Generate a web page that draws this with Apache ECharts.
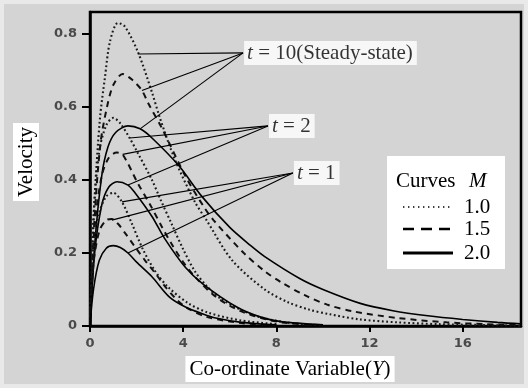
<!DOCTYPE html>
<html><head><meta charset="utf-8">
<script src="https://cdn.jsdelivr.net/npm/echarts@6/dist/echarts.min.js"></script>
<style>html,body{margin:0;padding:0;background:#e9e9e9;}#c{width:528px;height:388px;}</style>
</head><body><div id="c"></div>
<script>
// ---- Data ----
const xTicks = [0, 4, 8, 12, 16];
const yTicks = [0, 0.2, 0.4, 0.6, 0.8];
const legendValues = ['1.0', '1.5', '2.0'];

// t = 10 (steady state)
const t10_M10 = [[0,0],[0.2,0.35],[0.43,0.57],[0.64,0.68],[0.86,0.78],[1.2,0.83],[1.5,0.82],[2.06,0.75],[2.66,0.64],[3.0,0.57],[3.65,0.455],[4.5,0.34],[5.0,0.29],[6.1,0.18],[7.5,0.10],[8.5,0.065],[9.4,0.045],[10.3,0.032],[11.6,0.018],[13.2,0.01],[15,0.005],[18.5,0.001]];
const t10_M15 = [[0,0],[0.2,0.3],[0.45,0.5],[0.73,0.6],[1.0,0.66],[1.4,0.69],[1.8,0.675],[2.23,0.645],[2.5,0.61],[3.1,0.54],[4.1,0.41],[4.9,0.325],[5.3,0.29],[6.6,0.2],[7.5,0.15],[8.2,0.12],[9.2,0.085],[10.2,0.058],[11.3,0.04],[13.2,0.022],[15.3,0.01],[17,0.005],[18.5,0.002]];
const t10_M20 = [[0,0],[0.2,0.22],[0.5,0.41],[0.77,0.49],[1.1,0.53],[1.63,0.548],[2.15,0.54],[2.66,0.515],[3.8,0.44],[4.8,0.355],[6.0,0.27],[6.9,0.22],[7.5,0.19],[9.0,0.13],[10,0.1],[11.6,0.062],[13,0.042],[14.5,0.028],[16,0.018],[17.5,0.01],[18.5,0.006]];
// t = 2
const t2_M10 = [[0,0],[0.15,0.3],[0.4,0.48],[0.7,0.55],[1.0,0.57],[1.3,0.555],[1.7,0.515],[2.0,0.48],[2.66,0.40],[3.0,0.35],[3.5,0.28],[4.0,0.21],[4.5,0.15],[5.0,0.11],[5.6,0.075],[7,0.03],[8.5,0.009],[10,0.002]];
const t2_M15 = [[0,0],[0.2,0.27],[0.5,0.41],[0.8,0.46],[1.15,0.475],[1.4,0.47],[2.06,0.39],[2.6,0.33],[3.1,0.27],[3.5,0.225],[4.0,0.175],[4.5,0.135],[5.4,0.08],[6.5,0.04],[8,0.012],[9.5,0.003]];
const t2_M20 = [[0,0],[0.2,0.2],[0.5,0.33],[0.8,0.38],[1.16,0.395],[1.63,0.386],[1.93,0.365],[2.66,0.30],[3.2,0.24],[4.1,0.16],[4.85,0.115],[6.3,0.052],[7.3,0.025],[8.2,0.012],[10,0.003]];
// t = 1
const t1_M10 = [[0,0],[0.15,0.2],[0.4,0.31],[0.7,0.355],[1.0,0.365],[1.37,0.34],[1.8,0.28],[2.27,0.21],[2.8,0.15],[3.35,0.107],[4.2,0.063],[5.1,0.036],[6.5,0.015],[8,0.005]];
const t1_M15 = [[0,0],[0.15,0.17],[0.4,0.26],[0.7,0.29],[0.94,0.293],[1.2,0.28],[1.5,0.255],[1.93,0.217],[2.36,0.18],[2.8,0.145],[3.2,0.11],[3.65,0.077],[4.1,0.052],[5,0.025],[6.5,0.008],[8,0.002]];
const t1_M20 = [[0,0],[0.15,0.1],[0.4,0.18],[0.7,0.213],[1.0,0.22],[1.3,0.215],[1.63,0.2],[2.0,0.175],[2.66,0.135],[3.4,0.08],[4.1,0.052],[4.85,0.033],[5.4,0.022],[6.5,0.01],[8,0.003]];

// annotation anchors (data space)
const annotations = [
  {pre:'t', post:' = 10(Steady-state)', origin:[6.57,0.748], targets:[[2.06,0.745],[2.23,0.645],[2.15,0.54]]},
  {pre:'t', post:' = 2', origin:[7.64,0.548], targets:[[1.7,0.515],[1.4,0.47],[1.63,0.386]]},
  {pre:'t', post:' = 1', origin:[8.71,0.419], targets:[[1.37,0.34],[0.94,0.29],[1.63,0.2]]}
];

// ---- Styling ----
const SERIF = '"Liberation Serif","Times New Roman",serif';
const styles = {
  dotted: {color:'#1a1a1a', width:2.1, type:[1.8,2.6], cap:'butt'},
  dashed: {color:'#111', width:2, type:[6,5]},
  solid:  {color:'#000', width:1.6, type:'solid'}
};
const curveList = [
  [t10_M10,'dotted'],[t10_M15,'dashed'],[t10_M20,'solid'],
  [t2_M10,'dotted'],[t2_M15,'dashed'],[t2_M20,'solid'],
  [t1_M10,'dotted'],[t1_M15,'dashed'],[t1_M20,'solid']
];

const series = [];
curveList.forEach(([d, s]) => {
  series.push({type:'line', data:d, showSymbol:false, smooth:0.3,
    lineStyle:Object.assign({}, styles[s]), silent:true, z:2});
});
annotations.forEach(a => {
  a.targets.forEach(tg => {
    series.push({type:'line', data:[a.origin, tg], showSymbol:false,
      lineStyle:{color:'#000', width:1.1}, silent:true, z:3});
  });
  series.push({type:'scatter', data:[a.origin], symbolSize:0, silent:true, z:5,
    label:{show:true, position:'right', distance:1,
      formatter:'{i|' + a.pre + '}{n|' + a.post + '}',
      backgroundColor:'#fff', padding:[2,4,1,3],
      rich:{i:{fontFamily:SERIF, fontStyle:'italic', fontSize:21, color:'#000'},
            n:{fontFamily:SERIF, fontSize:21, color:'#000'}}}});
});

const tickLabelStyle = {color:'#4a4a4a', fontFamily:'"DejaVu Sans",sans-serif', fontSize:13, fontWeight:'bold'};

const option = {
  animation:false,
  backgroundColor:'#e9e9e9',
  grid:{left:90, top:12, width:431, height:314, show:true, borderColor:'#000', borderWidth:2.5, backgroundColor:'transparent'},
  xAxis:{type:'value', min:0, max:18.5, interval:4,
    axisLine:{show:true, onZero:false, lineStyle:{color:'#000', width:2.5}},
    axisTick:{show:true, length:6, customValues:xTicks, lineStyle:{color:'#000', width:2}},
    axisLabel:Object.assign({customValues:xTicks, margin:11}, tickLabelStyle),
    splitLine:{show:false}},
  yAxis:{type:'value', min:0, max:0.86, interval:0.2,
    axisLine:{show:true, onZero:false, lineStyle:{color:'#000', width:2.5}},
    axisTick:{show:true, length:8, customValues:yTicks, lineStyle:{color:'#000', width:2}},
    axisLabel:Object.assign({customValues:yTicks, margin:13,
      formatter:v => v === 0 ? '0' : v.toFixed(1)}, tickLabelStyle),
    splitLine:{show:false}},
  graphic:[
    {type:'rect', z:-10, silent:true, shape:{x:4, y:4, width:520, height:380}, style:{fill:'#d4d4d4'}},
    {type:'text', x:26, y:162, rotation:Math.PI/2, z:10,
      style:{text:'Velocity', font:'21px ' + SERIF, fill:'#000', align:'center', verticalAlign:'middle',
             backgroundColor:'#fff', padding:[3,4,2,4]}},
    {type:'text', x:290, y:369, z:10,
      style:{text:'{n|Co-ordinate Variable(}{i|Y}{n|)}', align:'center', verticalAlign:'middle',
             backgroundColor:'#fff', padding:[3,4,2,4],
             rich:{n:{fontFamily:SERIF, fontSize:21, fill:'#000'}, i:{fontFamily:SERIF, fontSize:21, fontStyle:'italic', fill:'#000'}}}},
    // legend
    {type:'rect', z:10, shape:{x:387, y:156, width:118, height:113}, style:{fill:'#fff'}},
    {type:'text', z:11, x:396, y:181, style:{text:'Curves', font:'21px ' + SERIF, fill:'#000', verticalAlign:'middle'}},
    {type:'text', z:11, x:469, y:181, style:{text:'M', font:'italic 21px ' + SERIF, fill:'#000', verticalAlign:'middle'}},
    {type:'line', z:11, shape:{x1:403, y1:207, x2:451, y2:207}, style:{stroke:'#000', lineWidth:1.6, lineDash:[1.4,3.6]}},
    {type:'line', z:11, shape:{x1:403, y1:229, x2:453, y2:229}, style:{stroke:'#000', lineWidth:2.4, lineDash:[11,7]}},
    {type:'line', z:11, shape:{x1:403, y1:253, x2:453, y2:253}, style:{stroke:'#000', lineWidth:3}},
    {type:'text', z:11, x:464, y:207, style:{text:legendValues[0], font:'21px ' + SERIF, fill:'#000', verticalAlign:'middle'}},
    {type:'text', z:11, x:464, y:229, style:{text:legendValues[1], font:'21px ' + SERIF, fill:'#000', verticalAlign:'middle'}},
    {type:'text', z:11, x:464, y:253, style:{text:legendValues[2], font:'21px ' + SERIF, fill:'#000', verticalAlign:'middle'}}
  ],
  series:series
};
const chart = echarts.init(document.getElementById('c'), null, {renderer:'canvas'});
chart.setOption(option);
</script>
</body></html>
